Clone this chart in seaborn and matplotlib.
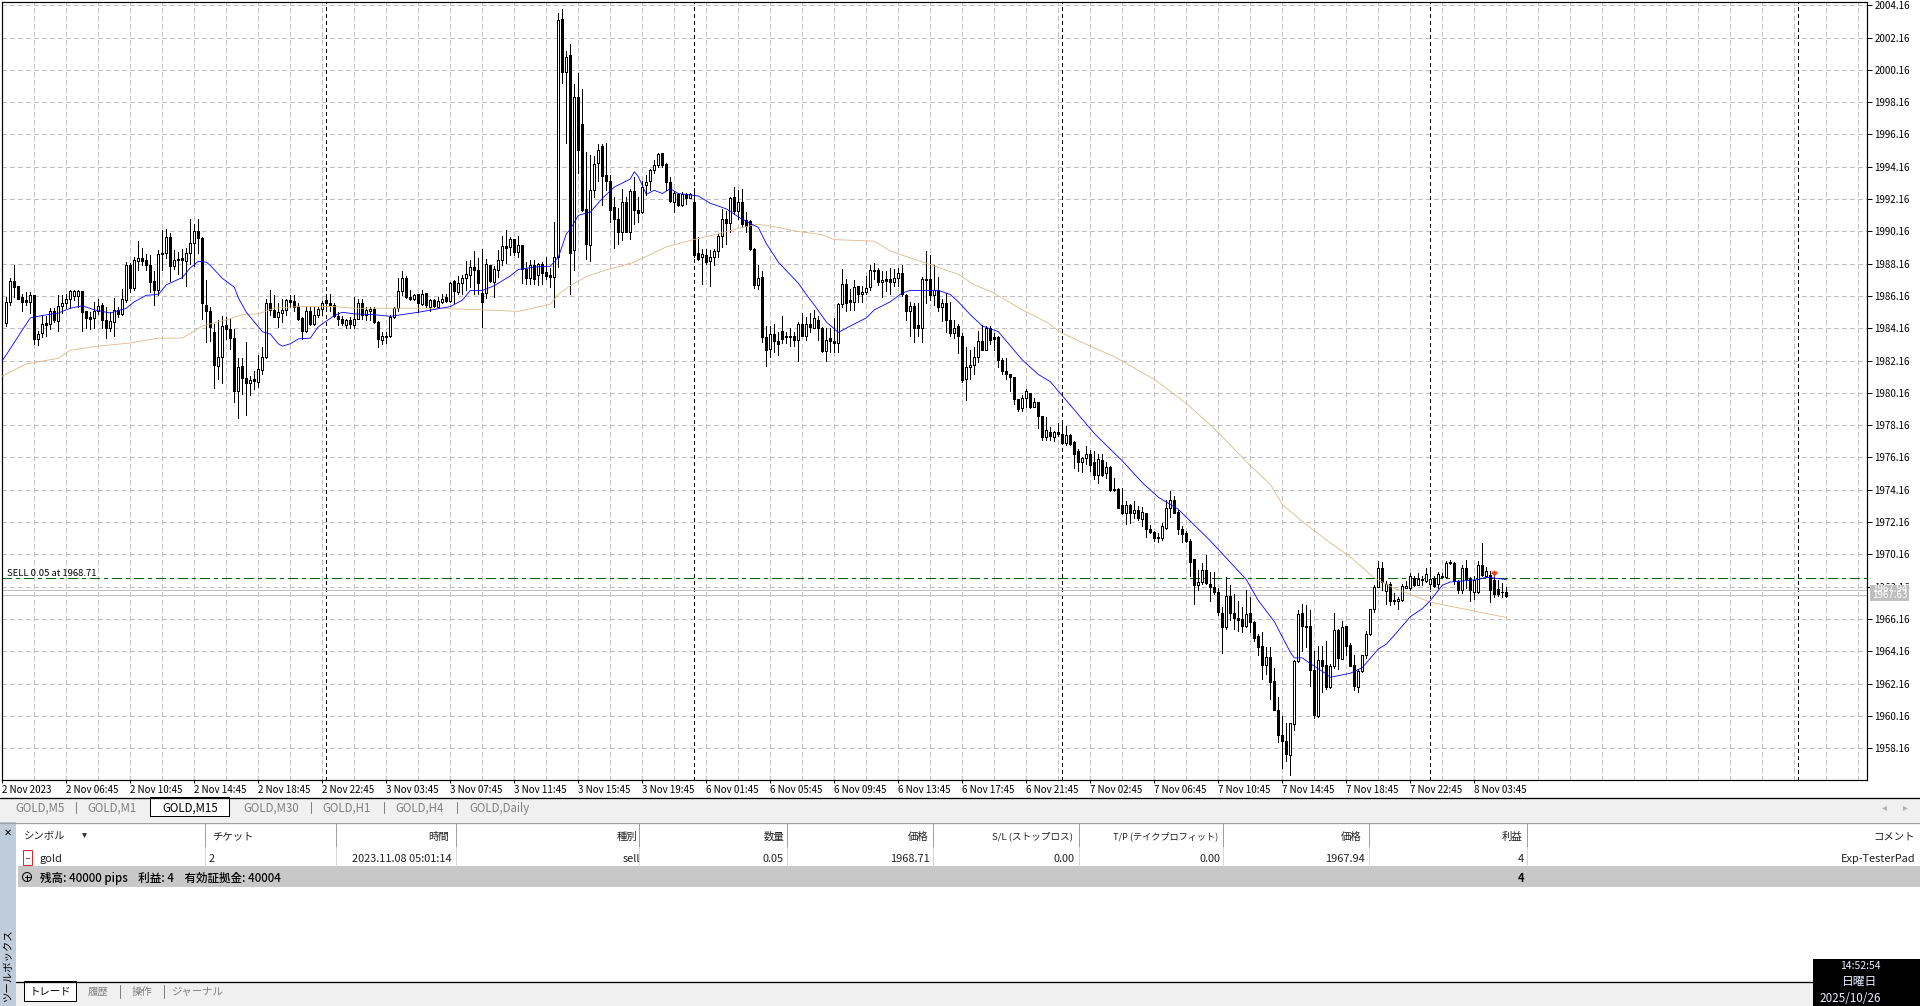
import numpy as np
import pandas as pd
import matplotlib
matplotlib.use('Agg')
import matplotlib.pyplot as plt
from matplotlib.patches import Rectangle, Circle
import seaborn as sns

# M15 candles, bar 0 is the first whole candle on the left
opens = [
    1984.5,1985.8,1987.1,1986.8,1986.1,1985.9,1985.8,1986.2,1983.5,1983.85,
    1984.5,1984.4,1985.2,1984.6,1985.55,1985.75,1985.95,1986.15,1986.15,1986.45,
    1985.2,1984.85,1984.8,1985.25,1985.6,1984.7,1984.2,1984.55,1985.3,1985.05,
    1985.9,1988.05,1986.65,1988.35,1988.5,1988.4,1988.1,1987.1,1986.5,1988.75,
    1988.8,1989.8,1988,1988.4,1988.5,1988.35,1988.85,1989.45,1990.2,1989.75,
    1985.6,1985.2,1983.9,1981.85,1982.35,1984.35,1984.1,1983.55,1980.3,1981.8,
    1981.1,1980.8,1981,1980.85,1981.6,1982.4,1985.7,1985.3,1984.85,1985.1,
    1985.3,1985.9,1985.85,1985.55,1984.8,1984,1985.2,1984.4,1985,1985.35,
    1985.9,1985.75,1985.6,1984.9,1984.75,1984.35,1984.65,1984.35,1984.75,1985.7,
    1985,1985.25,1985.35,1984.55,1983.45,1983.6,1983.65,1984.85,1985.4,1986.45,
    1987.3,1986.1,1985.95,1986.25,1985.65,1986.35,1985.5,1985.9,1985.5,1985.8,
    1986.1,1985.85,1987.1,1986.4,1986.95,1987.25,1987.45,1987.95,1987.75,1986.35,
    1986.35,1988.05,1987.05,1987.75,1988.4,1989.25,1989.2,1989.7,1988.9,1989.3,
    1987.8,1987.25,1988.05,1987.45,1988.15,1987.65,1987.45,1987.35,1988.55,2003.3,
    2000,2001.05,1989,1998.5,1996.8,1991.55,1989.3,1992.7,1994.4,1995.45,
    1993.65,1993.3,1991.65,1990.95,1990.1,1991.95,1990.15,1992.65,1991.5,1991.35,
    1993,1993.25,1993.95,1994.25,1995,1994.3,1993.2,1991.95,1992.45,1991.8,
    1992.45,1992.25,1992,1988.85,1988.55,1988.7,1988.3,1988.55,1988.95,1989.85,
    1990.9,1990.7,1992.3,1991.4,1992,1990.85,1990.8,1989.05,1986.85,1987.35,
    1983.6,1982.9,1983.8,1983.4,1984,1983.65,1983.7,1983.7,1983.45,1984.4,
    1983.7,1984.4,1984.2,1984.7,1984.15,1982.75,1983.55,1983.4,1983.25,1985.65,
    1986.9,1985.9,1985.8,1986.75,1986.25,1986.4,1986.7,1987.7,1987.75,1987,
    1987.2,1987.2,1987,1987.25,1987.6,1986.2,1985.2,1985.55,1984.35,1984.2,
    1987.2,1987.2,1986.2,1986.5,1985.5,1985.75,1984.7,1983.85,1984.3,1983.65,
    1981,1981.75,1981.9,1982.35,1983.4,1982.8,1984.2,1983.6,1983.6,1982.2,
    1981.5,1981.35,1981.15,1979.8,1979.2,1979.85,1980.15,1979.3,1979.6,1978.75,
    1977.45,1977.75,1977.4,1977.75,1977.6,1977.05,1977.55,1977.1,1976.55,1975.85,
    1976.1,1976.4,1975.85,1975.05,1976,1975.2,1975.55,1974.2,1974.2,1973.2,
    1972.7,1973.2,1972.75,1972.9,1972.35,1972.75,1971.7,1971.55,1971.25,1971.2,
    1971.8,1973,1973.5,1972.8,1971.7,1971.5,1971,1969.85,1968.25,1968.45,
    1969.2,1968.35,1968.15,1967.8,1966.5,1965.65,1967.6,1966.5,1966.2,1966.15,
    1965.75,1966.5,1966,1965.1,1964.5,1963.3,1963.8,1962.35,1960.55,1958.95,
    1958.6,1957.75,1959.65,1963.55,1966.5,1965.75,1965.7,1963,1960.15,1963.65,
    1963.3,1961.95,1963.25,1965.45,1963.7,1965.7,1964.55,1963.3,1961.95,1962.95,
    1963.9,1965.25,1966.75,1968.15,1969.3,1967.9,1968.3,1967.35,1967.3,1967.35,
    1968.1,1968.1,1968.7,1968.25,1968.65,1968.5,1968.3,1968.7,1968.3,1968.85,
    1968.75,1969.7,1969.6,1968.5,1967.95,1969.3,1968.65,1967.85,1967.85,1969.5,
    1968.85,1968.9,1968.55,1968,1967.85,1967.85,
]
closes = [
    1985.8,1987.1,1986.7,1986.0,1985.8,1985.8,1986.2,1983.5,1983.8,1984.4,
    1984.35,1985.2,1984.65,1985.55,1985.75,1985.95,1986.45,1986.45,1986.45,1985.15,
    1984.8,1984.75,1985.25,1985.55,1984.65,1984.2,1984.6,1985.3,1985.05,1985.95,
    1988.1,1986.65,1988.4,1988.5,1988.35,1988.1,1987,1986.5,1988.75,1988.8,
    1989.8,1988,1988.4,1988.4,1988.4,1988.85,1989.45,1990.2,1989.75,1985.7,
    1985.2,1984.25,1981.9,1982.4,1984.3,1984.1,1983.55,1980.25,1981.75,1981.1,
    1980.8,1980.95,1980.9,1981.65,1982.4,1985.7,1985.3,1984.85,1985.15,1985.3,
    1985.9,1985.8,1985.5,1984.75,1984,1985.25,1984.4,1985,1985.35,1985.7,
    1985.7,1985.6,1984.9,1984.75,1984.5,1984.65,1984.45,1984.75,1985.7,1985,
    1985.3,1985.35,1984.55,1983.5,1983.65,1983.7,1984.85,1985.4,1986.45,1987.25,
    1986.1,1986,1986.2,1985.7,1986.3,1985.6,1985.9,1985.55,1985.85,1986,
    1985.85,1986.95,1986.45,1986.95,1987.25,1987.5,1987.95,1987.75,1986.95,1985.8,
    1988.15,1987.1,1987.8,1988.4,1989.25,1989.15,1989.7,1988.9,1989.3,1987.8,
    1987.25,1988.05,1987.2,1988.15,1987.6,1987.4,1987.35,1988.55,2003.25,2000,
    2000.95,1988.8,1998.5,1995.2,1991.5,1989.35,1992.75,1994.35,1995.2,1993.6,
    1993.3,1991.5,1990.95,1990.1,1991.95,1990.15,1992.65,1991.5,1991.3,1992.9,
    1993.2,1993.95,1994.25,1994.95,1994.25,1993.2,1992.05,1992.55,1991.8,1992.45,
    1992.25,1992.45,1988.7,1988.45,1988.75,1988.25,1988.6,1988.95,1989.85,1990.9,
    1990.7,1992.25,1991.4,1991.95,1990.6,1990.5,1989.05,1986.85,1987.25,1983.6,
    1982.8,1983.8,1983.4,1983.2,1983.5,1983.6,1983.6,1983.45,1984.4,1983.7,
    1984.4,1984.25,1984.8,1984.15,1982.75,1983.45,1983.4,1983.25,1985.65,1986.9,
    1985.7,1985.8,1986.7,1986.3,1986.4,1986.65,1987.75,1987.75,1987,1987.15,
    1987.1,1987,1987.25,1987.6,1986.25,1985.2,1985.55,1984.2,1984.2,1987.2,
    1987.15,1986.2,1986.5,1985.5,1985.7,1984.65,1983.85,1984.2,1983.65,1980.95,
    1981.75,1981.9,1982.35,1983.35,1982.8,1984.15,1983.45,1983.5,1982.2,1981.5,
    1981.35,1981.15,1979.75,1979.15,1979.85,1980.25,1979.3,1979.6,1978.7,1977.4,
    1977.85,1977.5,1977.75,1977.6,1977.05,1977.55,1977,1976.4,1975.9,1976.1,
    1976.35,1975.7,1975.05,1976.05,1975.1,1975.6,1974.15,1974.15,1973.05,1972.7,
    1973.2,1972.75,1972.9,1972.4,1972.8,1971.7,1971.55,1971.2,1971.2,1971.9,
    1973,1973.55,1972.75,1971.7,1971.45,1971,1969.7,1968.25,1968.45,1969.2,
    1968.4,1968.15,1967.8,1966.6,1965.65,1967.6,1966.5,1966.2,1966.1,1965.75,
    1966.45,1965.95,1965,1964.45,1963.3,1963.8,1962.25,1960.55,1958.95,1958.6,
    1957.8,1959.7,1963.55,1966.45,1965.7,1965.65,1963,1960.2,1963.6,1963.25,
    1961.95,1963.25,1965.5,1963.75,1965.65,1964.5,1963.25,1962,1962.95,1963.9,
    1965.25,1966.75,1968.15,1969.3,1968.45,1968.35,1967.3,1967.3,1967.4,1968.2,
    1968.2,1968.85,1968.25,1968.65,1968.55,1968.95,1968.65,1968.2,1968.95,1968.75,
    1969.6,1969.6,1968.5,1967.95,1969.3,1968.65,1967.95,1968.6,1969.5,1968.9,
    1969.1,1967.95,1967.7,1967.7,1967.8,1967.6,
]
highs = [
    1986.1,1987.3,1988.1,1986.8,1986.3,1986.4,1986.4,1986.2,1984.0,1985.0,
    1984.9,1985.4,1985.4,1986.2,1986.2,1986.3,1986.5,1986.5,1986.5,1986.45,
    1985.2,1985.15,1985.8,1986,1985.7,1985.5,1985.15,1986.05,1985.5,1986.6,
    1988.25,1988.2,1988.6,1989.55,1989.1,1988.75,1988.7,1987.7,1989,1990.25,
    1990.3,1990.05,1989,1988.9,1989.05,1989.1,1990.9,1990.6,1990.95,1989.8,
    1987.15,1985.5,1984.4,1984.65,1984.9,1984.85,1984.75,1984.1,1982.3,1982.3,
    1983.3,1981.2,1981.5,1982.5,1983,1986,1986.55,1986.2,1985.7,1985.95,
    1986,1986.2,1986.2,1985.7,1984.85,1985.45,1985.5,1985.5,1985.5,1985.85,
    1986.25,1986.3,1985.7,1985.15,1984.9,1984.75,1984.85,1986.1,1986,1986,
    1985.5,1985.5,1985.5,1984.6,1983.9,1983.9,1984.95,1985.5,1987.25,1987.7,
    1987.4,1986.5,1986.3,1986.25,1986.5,1986.35,1985.95,1986,1986.1,1986.3,
    1986.3,1987,1987.15,1987.4,1987.45,1988.3,1988.4,1988.95,1988.5,1989.05,
    1988.45,1988.1,1988,1989,1989.85,1990.25,1989.8,1989.7,1989.85,1989.3,
    1988.25,1988.4,1988.4,1988.2,1988.25,1988.55,1987.9,1990.75,2003.7,2003.95,
    2001.35,2001.75,1999.3,1999.95,1999,1995.05,1994.9,1994.8,1995.55,1995.55,
    1995.6,1993.65,1992.3,1991.6,1992.8,1992.3,1992.8,1993.55,1992.3,1993.25,
    1993.65,1994.05,1994.6,1995,1995,1994.4,1993.5,1992.65,1992.55,1992.6,
    1992.55,1992.55,1992.85,1989.8,1989.05,1989.05,1989,1989.05,1990,1991.55,
    1991.45,1992.3,1992.9,1992.75,1992.8,1991.35,1990.85,1989.15,1988.05,1987.7,
    1984.3,1984.3,1984.4,1983.9,1984.9,1983.95,1984.15,1983.95,1984.55,1985.1,
    1984.85,1985.1,1985.3,1984.9,1984.25,1984.15,1984.15,1984.8,1985.7,1987.85,
    1987.2,1986.6,1987.15,1986.8,1986.75,1987.4,1988.1,1988.2,1987.9,1987.7,
    1987.7,1987.9,1987.8,1987.9,1988.1,1986.25,1985.8,1985.7,1985.7,1987.35,
    1988.95,1988.7,1988.1,1987.35,1985.95,1986.35,1985.8,1984.65,1984.45,1983.85,
    1983,1982.8,1983,1984,1984.35,1984.3,1984.3,1983.85,1983.7,1982.3,
    1982.3,1981.35,1981.15,1979.8,1980,1980.4,1980.15,1979.85,1979.6,1978.75,
    1978.65,1978.05,1977.8,1978.3,1978.3,1978.1,1977.6,1977.2,1976.7,1976.2,
    1976.9,1976.65,1976.55,1976.4,1976.4,1975.85,1975.65,1974.9,1974.3,1974.3,
    1973.45,1973.25,1973.45,1973.15,1973.1,1972.75,1972,1971.6,1971.5,1972.1,
    1973.5,1974.1,1973.75,1972.9,1971.9,1971.6,1971.1,1969.85,1969.2,1969.6,
    1970.1,1969.05,1969.05,1968.05,1966.9,1968.75,1968.25,1967.7,1967.3,1966.9,
    1967.95,1967.55,1966.05,1965.2,1965.35,1964.45,1964.45,1963.1,1961.3,1960.15,
    1959.75,1959.7,1963.6,1966.7,1967.1,1967,1966.7,1964.2,1964.5,1964.5,
    1964.8,1963.35,1966.5,1965.55,1966.05,1965.75,1964.7,1963.9,1963.05,1963.9,
    1965.4,1966.8,1968.25,1969.75,1969.7,1968.5,1968.45,1967.75,1967.5,1968.35,
    1968.5,1969,1968.85,1969,1968.8,1969.3,1969.4,1968.85,1969.05,1969,
    1969.75,1969.8,1969.7,1968.55,1969.5,1969.8,1968.75,1968.8,1969.75,1970.85,
    1969.4,1969.15,1968.85,1968.6,1968.4,1968.15,
]
lows = [
    1984.3,1985.6,1986.1,1986.0,1985.2,1985.6,1985.1,1983.2,1983.1,1983.6,
    1983.7,1984.1,1984.55,1984.0,1985.1,1985.4,1985.4,1985.9,1985.5,1984.0,
    1984.2,1984.1,1984.2,1985.05,1984.15,1983.55,1984,1983.7,1984.85,1985,
    1985.8,1986.4,1986.5,1987.75,1988.1,1987.75,1986.4,1985.6,1986.2,1987.75,
    1988.5,1987.1,1987.85,1987.55,1987.25,1986.75,1988.15,1988,1988.8,1984.75,
    1983.3,1983.35,1980.45,1981,1980.8,1983.5,1982.9,1979.6,1978.6,1980.1,
    1978.8,1980,1980.4,1980.5,1981.35,1982.3,1984.95,1984.85,1984.25,1984.55,
    1985,1985.5,1985.25,1984.7,1983.5,1983.9,1984.35,1984.35,1984.85,1985,
    1985.2,1985.25,1984.85,1984.35,1984.35,1984.15,1984.15,1984.2,1984.75,1984.75,
    1984.65,1984.65,1984.5,1983,1983.2,1983.25,1983.6,1984.8,1985.25,1986.2,
    1986.05,1985.9,1985.9,1985.15,1985.6,1985.5,1985.25,1985.5,1985.5,1985.7,
    1985.8,1985.8,1985.7,1986.3,1986.3,1986.5,1986.7,1986.3,1986.3,1984.25,
    1986.05,1987.05,1986.1,1987.35,1988.1,1988.2,1988.7,1988.7,1988.6,1986.95,
    1986.9,1986.9,1986.9,1986.85,1986.9,1987.2,1986.7,1985.45,1987.95,1999.35,
    1995.6,1986.25,1987.75,1993.8,1991.45,1988.45,1988.35,1992.3,1993.25,1991.8,
    1992.7,1990.75,1989.1,1989.4,1989.6,1990.1,1989.7,1990.6,1990.75,1991.3,
    1992.4,1992.7,1993.75,1994.15,1994.15,1992.7,1992,1991.35,1991.75,1991.75,
    1991.85,1992.2,1988.55,1988.4,1986.9,1988.15,1986.75,1988.05,1988.55,1989.2,
    1989.4,1990.15,1991.25,1990.95,1990.45,1990.15,1989,1986.65,1986.6,1983.3,
    1981.8,1982.4,1982.7,1982.5,1983.25,1983.25,1983.05,1983.05,1982.15,1983.65,
    1983.45,1983.95,1984.15,1983.45,1982.7,1982.15,1982.7,1982.7,1982.7,1985.5,
    1985.2,1985.3,1985.3,1985.8,1985.8,1986.25,1986.5,1987.2,1986.85,1986.1,
    1986.45,1986.25,1986.75,1986.8,1986.15,1984.7,1983.65,1983.3,1983.65,1983.3,
    1985.7,1985.9,1985.6,1985.2,1984.6,1983.95,1983.65,1983.55,1982.6,1980.85,
    1979.7,1981,1981.35,1982.1,1982.8,1982.8,1983.2,1982.8,1981.75,1981.3,
    1981,1980.3,1979.5,1979.05,1979.05,1979.3,1979.2,1979.3,1978,1977.25,
    1977.25,1977.25,1977.2,1977.5,1977,1976.95,1976.95,1975.5,1975.35,1975.25,
    1975.75,1975.35,1974.8,1974.6,1975,1974.9,1974.1,1974.1,1973,1972.65,
    1972.05,1972.1,1972.4,1972.3,1971.9,1971.25,1971.5,1971,1970.95,1971.05,
    1971.75,1972.5,1972.7,1971.4,1970.95,1970.95,1968.85,1967.1,1967.95,1968.35,
    1968.35,1967.3,1967.7,1966.4,1964.05,1965.55,1966.1,1965.55,1965.4,1965.35,
    1965.65,1965.35,1964.8,1963.9,1962.45,1962.75,1961.2,1960.5,1958.55,1956.95,
    1957.35,1956.5,1959.3,1963.5,1964.2,1964.45,1962,1960,1960.1,1961.65,
    1961.8,1961.9,1963.15,1963.05,1963.7,1963.9,1963.25,1961.75,1961.65,1962.9,
    1963.75,1965.15,1966.6,1968.15,1967.95,1967.1,1967,1967.1,1966.8,1967.3,
    1968.05,1967.95,1968.2,1968.25,1968.25,1968.45,1968.05,1968.15,1968.05,1968.7,
    1968.7,1969.55,1968.35,1967.75,1967.75,1968.1,1967.3,1967.4,1967.75,1968.8,
    1968.75,1967.2,1967.55,1967.6,1967.55,1967.55,
]

fast_bars = [-1,1,4,6,9,13,16,19,22,26,30,32,35,38,40,44,46,48,50,51,54,57,58,60,63,64,66,68,69,71,
             73,76,78,82,84,87,92,96,103,111,114,116,119,122,126,128,132,136,138,140,141,143,146,149,
             152,156,157,158,160,162,164,166,168,173,176,180,184,188,190,192,193,198,200,202,205,208,
             211,215,217,221,224,226,233,236,238,241,244,248,254,258,261,266,272,273,279,284,288,293,
             301,310,313,317,321,322,324,326,330,331,336,339,343,345,347,351,354,356,359,361,368,370,375]
fast_ma = [1982.15,1982.9,1984.05,1984.8,1984.95,1985.1,1985.4,1985.55,1985.3,1985.1,1985.4,1985.8,
           1986.2,1986.25,1986.85,1987.3,1987.9,1988.3,1988.25,1988.05,1987.25,1986.7,1986.05,1985.15,
           1984.25,1983.95,1983.8,1983.2,1983.05,1983.2,1983.5,1983.55,1984.25,1984.95,1985.15,1985.05,
           1985.0,1984.9,1985.15,1985.5,1985.9,1986.5,1986.5,1986.8,1987.4,1987.8,1987.95,1988,1988.55,
           1990,1990.3,1991.15,1991.35,1992.2,1992.9,1993.4,1993.85,1993.55,1992.45,1992.7,1992.5,1992.8,
           1992.5,1992.35,1991.9,1991.55,1990.9,1990.4,1989.4,1988.65,1988.25,1986.95,1986.25,1985.6,
           1984.55,1983.9,1984.3,1984.8,1985.3,1985.8,1986.35,1986.5,1986.5,1986.25,1985.8,1985,1984.3,
           1983.95,1982.2,1981.3,1980.85,1979.4,1977.65,1977.4,1975.95,1974.6,1973.7,1972.95,1971,1968.6,
           1967.3,1966,1964.1,1963.75,1963.75,1963.4,1962.75,1962.55,1962.8,1963.15,1964.3,1964.6,1965.15,
           1966.3,1966.8,1967.3,1968.25,1968.45,1968.6,1968.75,1968.6]
slow_bars = [-1,5,13,16,23,31,38,44,49,56,59,63,67,73,82,87,98,108,124,128,136,138,141,145,149,157,165,
             171,177,184,188,193,198,204,207,217,221,225,231,238,242,246,251,254,260,264,271,277,287,295,
             302,311,316,319,324,330,336,342,347,356,363,368,375]
slow_ma = [1981.2,1981.95,1982.3,1982.8,1983.05,1983.25,1983.55,1983.55,1984.3,1984.75,1985,1985.05,
           1985.4,1985.5,1985.5,1985.4,1985.4,1985.4,1985.25,1985.2,1985.65,1986.25,1986.8,1987.35,1987.7,
           1988.25,1989.2,1989.6,1989.95,1990.4,1990.6,1990.4,1990.15,1989.95,1989.65,1989.55,1988.95,
           1988.6,1988.1,1987.5,1986.85,1986.45,1985.75,1985.3,1984.55,1983.85,1983.05,1982.4,1981,1979.5,
           1977.95,1975.65,1974.5,1973.25,1972.2,1971.05,1970,1968.7,1968.05,1967.2,1966.85,1966.6,1966.25]

time_labels = ['2 Nov 2023','2 Nov 06:45','2 Nov 10:45','2 Nov 14:45','2 Nov 18:45','2 Nov 22:45',
               '3 Nov 03:45','3 Nov 07:45','3 Nov 11:45','3 Nov 15:45','3 Nov 19:45','6 Nov 01:45',
               '6 Nov 05:45','6 Nov 09:45','6 Nov 13:45','6 Nov 17:45','6 Nov 21:45','7 Nov 02:45',
               '7 Nov 06:45','7 Nov 10:45','7 Nov 14:45','7 Nov 18:45','7 Nov 22:45','8 Nov 03:45']
day_breaks = [80, 172, 264, 356, 448]
sell_price = 1968.71
ask_price = 1967.94
bid_price = 1967.63
sell_bar = 372
sell_mark = 1968.95

chart_tabs = ['GOLD,M5', 'GOLD,M1', 'GOLD,M15', 'GOLD,M30', 'GOLD,H1', 'GOLD,H4', 'GOLD,Daily']
columns = ['シンボル', 'チケット', '時間', '種別', '数量', '価格', 'S/L (ストップロス)',
           'T/P (テイクプロフィット)', '価格', '利益', 'コメント']
position_row = ['gold', '2', '2023.11.08 05:01:14', 'sell', '0.05', '1968.71', '0.00', '0.00',
                '1967.94', '4', 'Exp-TesterPad']
summary = '残高: 40000 pips    利益: 4    有効証拠金: 40004'
panel_tabs = ['トレード', '履歴', '操作', 'ジャーナル']

W, H = 1920, 1006
PX = 72 / 100  # one pixel in points

sns.set_theme(style='white')
plt.rcParams['font.family'] = ['Noto Sans CJK JP', 'DejaVu Sans']
plt.rcParams['font.size'] = 7


def make_chart(fig):
    ax = fig.add_axes([2.3 / W, 1 - 780 / H, (1867.3 - 2.3) / W, 778 / H])
    ax.set_xlim(-1, 465.25)
    ax.set_ylim(1956.19, 2004.36)
    ax.set_facecolor('white')

    # grid first, marks go over it
    grid_x = np.arange(7, 466, 8)
    grid_y = np.arange(1958.16, 2004.2, 2)
    ax.vlines(grid_x, 1956.19, 2004.36, color='#C0C0C0', lw=PX, linestyles=(0, (5, 3)),
              antialiased=False, zorder=1)
    ax.hlines(grid_y, -1, 465.25, color='#C0C0C0', lw=PX, linestyles=(0, (5, 3)),
              antialiased=False, zorder=1)
    ax.vlines(day_breaks, 1956.19, 2004.36, color='black', lw=PX, linestyles=(0, (3, 3)),
              antialiased=False, zorder=2)
    ax.hlines([ask_price, bid_price], -1, 465.25, color='#C0C0C0', lw=PX, antialiased=False, zorder=2)
    ax.hlines(sell_price, -1, 465.25, color='#006400', lw=PX,
              linestyles=(0, (10, 5, 3, 5)), antialiased=False, zorder=2)
    ax.text(0.2, sell_price - 0.02, 'SELL 0.05 at 1968.71', fontsize=6.8, color='black',
            va='bottom', ha='left', zorder=6)

    bars = pd.DataFrame({'open': opens, 'high': highs, 'low': lows, 'close': closes})
    bars['bar'] = bars.index
    ax.vlines(bars['bar'], bars['low'], bars['high'], color='black', lw=PX,
              antialiased=False, zorder=3)
    up = bars[bars['close'] >= bars['open']]
    down = bars[bars['close'] < bars['open']]
    ax.bar(up['bar'], (up['close'] - up['open']).clip(lower=0.03), bottom=up['open'], width=0.5,
           color='white', edgecolor='black', linewidth=PX, antialiased=False, zorder=4)
    ax.bar(down['bar'], down['close'] - down['open'], bottom=down['open'], width=0.5,
           color='black', edgecolor='black', linewidth=PX, antialiased=False, zorder=4)

    sns.lineplot(x=slow_bars, y=slow_ma, color='#DEB887', lw=0.6, ax=ax, estimator=None, zorder=5)
    sns.lineplot(x=fast_bars, y=fast_ma, color='#0000FF', lw=0.6, ax=ax, estimator=None, zorder=5)
    ax.plot([sell_bar], [sell_mark], marker='v', ms=5, color='#F04020', mec='none', zorder=6)
    ax.plot([sell_bar], [sell_mark + 0.08], marker='+', ms=5, mew=1, color='#F04020', zorder=6)

    ax.yaxis.tick_right()
    ax.set_yticks(grid_y)
    ax.set_yticklabels([f'{v:.2f}' for v in grid_y], fontsize=7)
    ax.tick_params(axis='y', length=3.5, width=PX, pad=1.5, colors='black', right=True)
    ax.set_xticks(np.arange(len(time_labels)) * 16 - 1)
    ax.set_xticklabels(time_labels, fontsize=7, ha='left')
    ax.tick_params(axis='x', length=2.5, width=PX, pad=1, colors='black', bottom=True)
    ax.set_xlabel('')
    ax.set_ylabel('')
    for side in ('left', 'right', 'top', 'bottom'):
        ax.spines[side].set_visible(True)
        ax.spines[side].set_color('black')
        ax.spines[side].set_linewidth(PX * 1.2)
    return ax


def box(ui, x0, y0, x1, y1, **kw):
    kw.setdefault('lw', 0)
    ui.add_patch(Rectangle((x0, y0), x1 - x0, y1 - y0, **kw))


def make_panels(fig):
    # terminal window around the chart, drawn in screen pixels
    ui = fig.add_axes([0, 0, 1, 1], zorder=5)
    ui.set_xlim(0, W)
    ui.set_ylim(H, 0)
    ui.axis('off')
    ui.patch.set_alpha(0)

    # current price flags on the scale
    box(ui, 1870, 585, 1909, 601, color='#BEBEBE')
    ui.text(1872, 589.5, '1967.94', fontsize=7, color='white', va='center', ha='left')
    ui.text(1872, 595.5, '1967.63', fontsize=7, color='white', va='center', ha='left')

    # chart tabs
    box(ui, 0, 798, W, 822, color='#F0F0F0')
    ui.plot([0, W], [797.5, 797.5], color='black', lw=PX * 1.3)
    box(ui, 150, 797, 229, 815.5, fc='white', ec='black', lw=PX)
    tab_x = [40, 112, 190, 271, 347, 420, 500]
    for x, label in zip(tab_x, chart_tabs):
        active = label == 'GOLD,M15'
        ui.text(x, 812, label, fontsize=8.3, color='black' if active else '#7F7F7F',
                ha='center', va='baseline')
    for x in [76, 311, 384, 457]:
        ui.plot([x, x], [802, 813], color='#7F7F7F', lw=PX)
    ui.text(1884, 807, '◂', fontsize=7, color='#B0B0B0', ha='center', va='center',
            family=['DejaVu Sans'])
    ui.text(1905, 807, '▸', fontsize=7, color='#B0B0B0', ha='center', va='center',
            family=['DejaVu Sans'])

    # toolbox table
    box(ui, 0, 822, 16, H, color='#BFCCDA')
    ui.plot([0, W], [822.5, 822.5], color='#A0A0A0', lw=PX * 1.3)
    ui.text(8, 833, '✕', fontsize=7, color='black', ha='center', va='center',
            family=['DejaVu Sans'], fontweight='bold')
    ui.text(8, 1001, 'ツールボックス', fontsize=7.5, color='black', rotation=90, ha='center', va='bottom')

    seps = [205, 335.5, 455.5, 639, 787, 933, 1079, 1223, 1368.5, 1527]
    for x in seps:
        ui.plot([x, x], [823, 847], color='#A0A0A0', lw=PX)
        ui.plot([x, x], [847, 866], color='#D8D8D8', lw=PX)

    head_x = [24, 212, 449, 637, 784, 929, 1073, 1218, 1362, 1522, 1915]
    head_ha = ['left', 'left'] + ['right'] * 9
    head_size = [7.5, 7.5, 7.5, 7.5, 7.5, 7.5, 6.9, 6.6, 7.5, 7.5, 7.5]
    for x, ha, fs, label in zip(head_x, head_ha, head_size, columns):
        ui.text(x, 836.5, label, fontsize=fs, color='#202020', ha=ha, va='center')
    ui.plot([84], [835], marker='v', ms=3.5, color='#303030', mec='none')

    row_x = [40, 209, 452, 640, 784, 929.5, 1075, 1221, 1365, 1524, 1915]
    for x, ha, label in zip(row_x, head_ha, position_row):
        ui.text(x, 862, label, fontsize=7.9, color='#202020', ha=ha, va='baseline')
    box(ui, 23, 850, 32, 865, fc='white', ec='#D03030', lw=PX)
    ui.plot([26, 29], [857.5, 857.5], color='#D03030', lw=PX)

    box(ui, 18, 866, W, 887, color='#C8C8C8')
    ui.add_patch(Circle((27, 877), 4.5, fc='none', ec='black', lw=PX))
    ui.plot([24.5, 29.5], [877, 877], color='black', lw=PX)
    ui.plot([27, 27], [874.5, 879.5], color='black', lw=PX)
    ui.text(40, 878.5, summary, fontsize=8.3, color='black', fontweight='medium', ha='left', va='center')
    ui.text(1524, 878.5, '4', fontsize=8, color='black', fontweight='bold', ha='right', va='center')

    # bottom tabs
    box(ui, 16, 982, W, H, color='#F0F0F0')
    ui.plot([16, W], [981.5, 981.5], color='black', lw=PX * 1.3)
    box(ui, 24, 981, 76, 1000.5, fc='white', ec='black', lw=PX)
    for x, label, col in zip([50, 98, 142, 197], panel_tabs, ['black', '#7F7F7F', '#7F7F7F', '#7F7F7F']):
        ui.text(x, 992, label, fontsize=7.5, color=col, ha='center', va='center')
    for x in [120, 164]:
        ui.plot([x, x], [985, 998], color='#7F7F7F', lw=PX)

    # clock
    box(ui, 1813, 959, W, H, color='black')
    ui.text(1860, 966, '14:52:54', fontsize=7.5, color='#E8F0FF', ha='center', va='center')
    ui.text(1860, 982, '日曜日', fontsize=8.5, color='#E8F0FF', ha='center', va='center')
    ui.text(1850, 998, '2025/10/26', fontsize=8.4, color='#E8F0FF', ha='center', va='center')


def main():
    fig = plt.figure(figsize=(W / 100, H / 100), dpi=100, facecolor='white')
    make_chart(fig)
    make_panels(fig)
    fig.savefig('out.png', dpi=100)
    plt.close(fig)


if __name__ == '__main__':
    main()
